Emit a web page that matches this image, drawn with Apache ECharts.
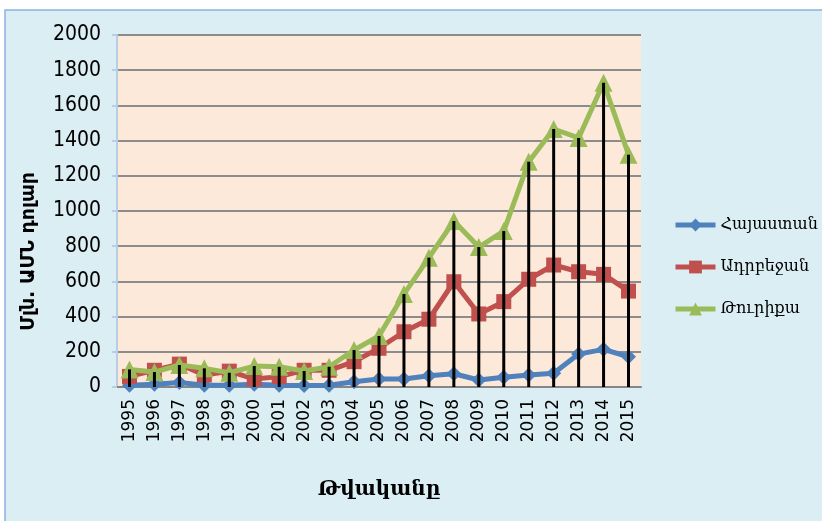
<!DOCTYPE html>
<html>
<head>
<meta charset="utf-8">
<script src="https://cdn.jsdelivr.net/npm/echarts@6/dist/echarts.min.js"></script>
<style>
  html, body { margin: 0; padding: 0; background: #fff; }
  #chart { width: 822px; height: 521px; }
</style>
</head>
<body>
<div id="chart"></div>
<script>
// data
const years = ["1995", "1996", "1997", "1998", "1999", "2000", "2001", "2002", "2003", "2004",
  "2005", "2006", "2007", "2008", "2009", "2010", "2011", "2012", "2013", "2014", "2015"];
const armenia = [10, 15, 25, 10, 10, 15, 10, 8, 10, 30, 45, 45, 64, 75, 40, 55, 68, 78, 187, 214, 172];
const azerbaijan = [60, 95, 130, 68, 90, 45, 59, 95, 95, 144, 220, 314, 385, 598, 415, 485, 612, 693, 655, 640, 545];
const turkey = [100, 85, 125, 106, 81, 119, 115, 91, 115, 210, 290, 528, 735, 943, 795, 886, 1280, 1466, 1415, 1729, 1320];
const seriesNames = ["Հայաստան", "Ադրբեջան", "Թուրիքա"];

const chart = echarts.init(document.getElementById("chart"));

function lineSeries(name, data, color, symbol, size, z) {
  return {
    name: name,
    type: "line",
    data: data,
    symbol: symbol,
    symbolSize: size,
    z: z,
    lineStyle: { color: color, width: 5 },
    itemStyle: { color: color },
  };
}

chart.setOption({
  animation: false,
  graphic: [
    {
      type: "rect",
      z: -10,
      shape: { x: 5, y: 10, width: 830, height: 530 },
      style: { fill: "#dbeef4", stroke: "#8db3e2", lineWidth: 1.5 },
    },
    {
      type: "text",
      left: 20,
      top: 172,
      rotation: Math.PI / 2,
      style: {
        text: "Մլն. ԱՄՆ դոլար",
        font: "bold 19px 'DejaVu Sans'",
        fill: "#000",
      },
    },
  ],
  grid: {
    left: 117,
    right: 181,
    top: 35,
    bottom: 134,
    show: true,
    backgroundColor: "#fde9d9",
    borderWidth: 0,
  },
  legend: {
    data: seriesNames,
    orient: "vertical",
    left: 668,
    top: 212,
    itemWidth: 40,
    itemHeight: 16,
    itemGap: 26,
    lineStyle: { width: 5 },
    textStyle: { fontFamily: "DejaVu Serif", fontSize: 16, color: "#000" },
  },
  xAxis: {
    type: "category",
    data: years,
    boundaryGap: true,
    name: "Թվականը",
    nameLocation: "middle",
    nameGap: 93,
    nameTextStyle: { fontFamily: "DejaVu Serif", fontWeight: "bold", fontSize: 20, color: "#000" },
    axisLine: { lineStyle: { color: "#868686", width: 2 } },
    axisTick: { show: false },
    axisLabel: {
      rotate: 90,
      margin: 12,
      interval: 0,
      fontFamily: "DejaVu Sans",
      fontSize: 17,
      color: "#000",
    },
  },
  yAxis: {
    type: "value",
    min: 0,
    max: 2000,
    interval: 200,
    axisLine: { show: true, lineStyle: { color: "#b9cde5", width: 2 } },
    axisTick: { show: true, length: 5, lineStyle: { color: "#b9cde5", width: 2 } },
    axisLabel: {
      margin: 16,
      formatter: (v) => String(v),
      fontFamily: "'Liberation Sans Narrow', 'DejaVu Sans Condensed', sans-serif",
      fontSize: 21,
      color: "#000",
    },
    splitLine: { lineStyle: { color: "#8c8c8c", width: 2 } },
  },
  series: [
    lineSeries(seriesNames[0], armenia, "#4f81bd", "diamond", 15, 3),
    lineSeries(seriesNames[1], azerbaijan, "#c0504d", "rect", 15, 4),
    lineSeries(seriesNames[2], turkey, "#9bbb59", "triangle", 18, 5),
    {
      // drop lines from the top series down to the axis
      name: "drop",
      type: "bar",
      data: turkey,
      barWidth: 3,
      z: 10,
      itemStyle: { color: "#000" },
    },
  ],
});
</script>
</body>
</html>
